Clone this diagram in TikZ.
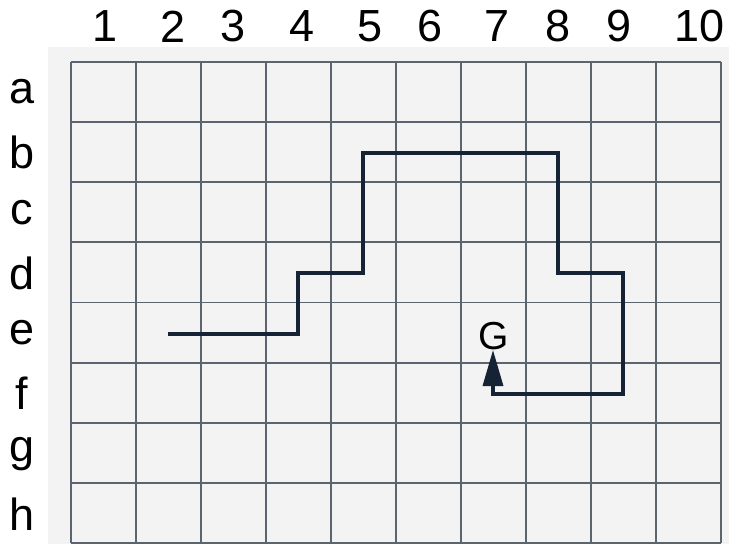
\documentclass[tikz,border=0pt]{standalone}
\usepackage{fontspec}
\setmainfont{Liberation Sans}
\usetikzlibrary{arrows.meta}
\definecolor{bgc}{RGB}{243,243,243}
\definecolor{gridc}{RGB}{92,100,112}
\definecolor{pathc}{RGB}{22,35,52}
\tikzset{
  lab/.style={inner sep=0pt, font=\fontsize{45}{50}\selectfont},
  gline/.style={draw=gridc, line width=1.8pt},
  route/.style={draw=pathc, line width=3.4pt, line join=miter, -{Triangle[width=20pt,length=36pt]}}
}
\begin{document}
\begin{tikzpicture}[x=1pt,y=-1pt]
\useasboundingbox (0,0) rectangle (729,544);
\fill[white] (0,0) rectangle (729,544);
\fill[bgc] (48,47) rectangle (729,544);
% grid
\foreach \i in {0,...,10} {
  \draw[gline] ({71+65*\i},62) -- ({71+65*\i},543);
}
\foreach \j in {0,...,8} {
  \draw[gline] (71,{62+60.125*\j}) -- (721,{62+60.125*\j});
}
% column labels
\foreach \n/\x in {1/105,2/173,3/233,4/302,5/370,6/430,7/497,8/558,9/619.5,10/699.5} {
  \node[lab] (col\n) at (\x,26.5) {\n};
}
% row labels
\foreach \l/\y in {a/92,b/152,c/213,d/273,e/333,f/393,g/454,h/514} {
  \node[lab] (row\l) at (22,\y) {\l};
}
% goal
\node[inner sep=0pt, font=\fontsize{39}{44}\selectfont] (G) at (494,336) {G};
\coordinate (start) at (168,334);
\coordinate (goal) at (493,350);
\draw[route] (start) -- (298,334) -- (298,273) -- (363,273) -- (363,153)
  -- (558,153) -- (558,273) -- (623,273) -- (623,394) -- (493,394) -- (goal);
\end{tikzpicture}
\end{document}
